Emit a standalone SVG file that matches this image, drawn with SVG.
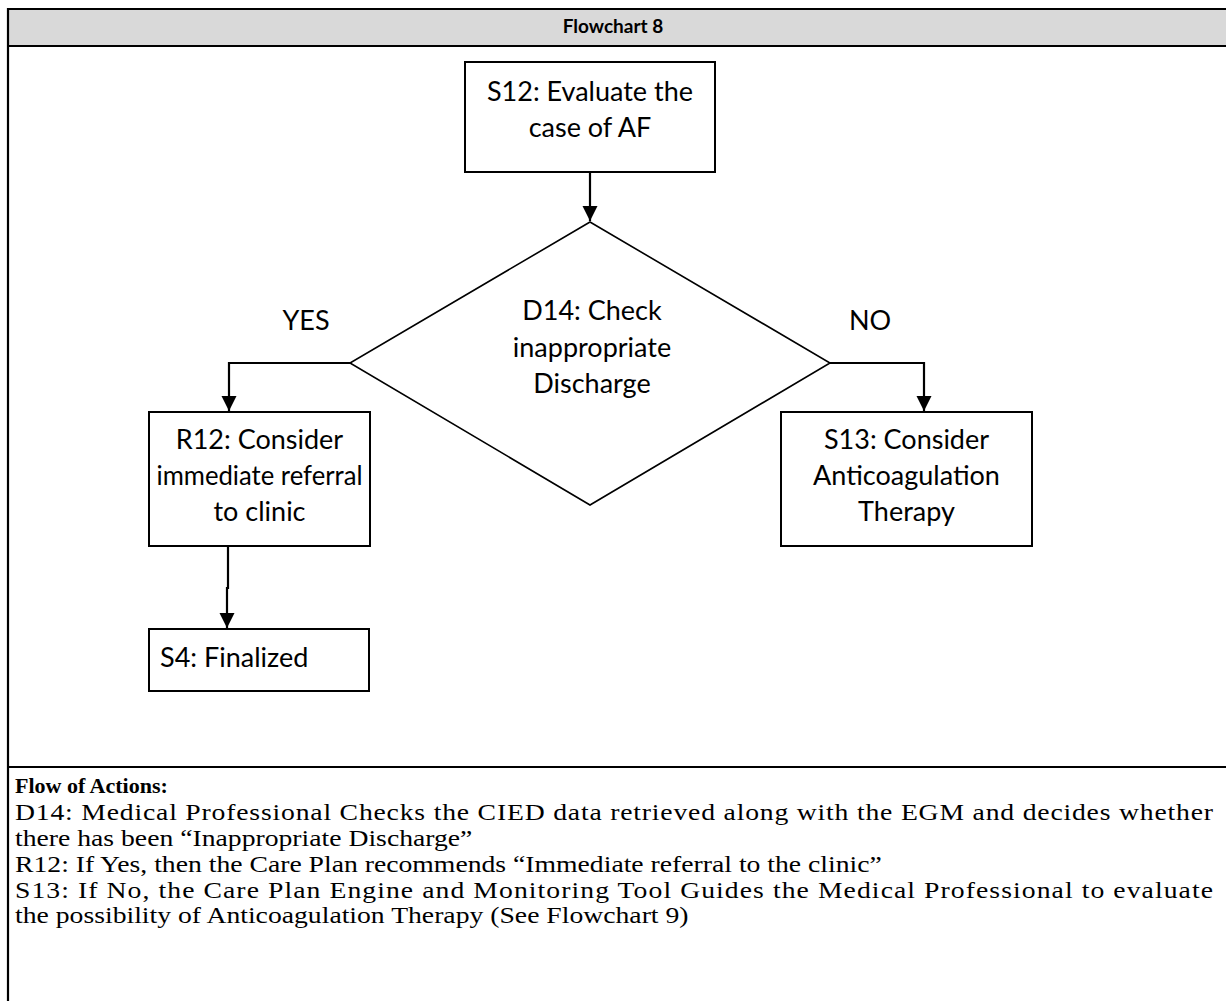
<svg xmlns="http://www.w3.org/2000/svg" width="1226" height="1001" viewBox="0 0 1226 1001">
  <style>
    .frame { stroke: #000; stroke-width: 2.2; fill: none; }
    .box { fill: #fff; stroke: #000; stroke-width: 2; }
    .dia { fill: #fff; stroke: #000; stroke-width: 1.6; }
    .lbl { font-family: Lato, "Liberation Sans", sans-serif; font-size: 27px; fill: #000; text-anchor: middle; }
    .lbl-l { font-family: Lato, "Liberation Sans", sans-serif; font-size: 27px; fill: #000; }
    .head { font-family: Lato, "Liberation Sans", sans-serif; font-size: 19px; font-weight: bold; fill: #000; text-anchor: middle; }
    .note { font-family: "Liberation Serif", "Times New Roman", serif; font-size: 22.5px; fill: #000; }
    .note-b { font-family: "Liberation Serif", "Times New Roman", serif; font-size: 22px; font-weight: bold; fill: #000; }
    .conn { fill: none; stroke: #000; stroke-width: 2.2; }
  </style>
  <defs>
    <marker id="arrow" viewBox="0 0 10 10" refX="10" refY="5" markerWidth="7" markerHeight="7" markerUnits="strokeWidth" orient="auto">
      <path d="M0,0 L10,5 L0,10 Z" fill="#000"/>
    </marker>
  </defs>

  <rect width="1226" height="1001" fill="#fff"/>

  <!-- table frame -->
  <g id="table">
    <rect x="8" y="9" width="1218" height="37" fill="#d9d9d9"/>
    <line class="frame" x1="7" y1="9" x2="1226" y2="9"/>
    <line class="frame" x1="7" y1="46" x2="1226" y2="46"/>
    <line class="frame" x1="7" y1="767" x2="1226" y2="767"/>
    <line class="frame" x1="8" y1="8" x2="8" y2="1001"/>
    <text class="head" x="613" y="33">Flowchart 8</text>
  </g>

  <!-- connectors -->
  <g id="connectors">
    <path class="conn" d="M590,172 L590,221" marker-end="url(#arrow)"/>
    <path class="conn" d="M350,363 L229,363 L229,411" marker-end="url(#arrow)"/>
    <path class="conn" d="M830,363 L924,363 L924,411" marker-end="url(#arrow)"/>
    <path class="conn" d="M228,546 L228,588 L227,588 L227,628" marker-end="url(#arrow)"/>
    <text class="lbl" x="306" y="330">YES</text>
    <text class="lbl" x="870" y="330">NO</text>
  </g>

  <g id="S12">
    <rect class="box" x="465" y="62" width="250" height="110"/>
    <text class="lbl" x="590" y="101">S12: Evaluate the</text>
    <text class="lbl" x="590" y="137">case of AF</text>
  </g>

  <g id="D14">
    <polygon class="dia" points="590,222 830,363 590,505 350,363"/>
    <text class="lbl" x="592" y="320">D14: Check</text>
    <text class="lbl" x="592" y="357">inappropriate</text>
    <text class="lbl" x="592" y="393">Discharge</text>
  </g>

  <g id="R12">
    <rect class="box" x="149" y="412" width="221" height="134"/>
    <text class="lbl" x="259.5" y="449">R12: Consider</text>
    <text class="lbl" x="259.5" y="485" textLength="206" lengthAdjust="spacingAndGlyphs">immediate referral</text>
    <text class="lbl" x="259.5" y="521">to clinic</text>
  </g>

  <g id="S13">
    <rect class="box" x="781" y="412" width="251" height="134"/>
    <text class="lbl" x="906.5" y="449">S13: Consider</text>
    <text class="lbl" x="906.5" y="485">Anticoagulation</text>
    <text class="lbl" x="906.5" y="521">Therapy</text>
  </g>

  <g id="S4">
    <rect class="box" x="149" y="629" width="220" height="62"/>
    <text class="lbl-l" x="160" y="667">S4: Finalized</text>
  </g>

  <!-- notes under the chart; body lines are set wide -->
  <g id="notes">
    <text class="note-b" x="15" y="793">Flow of Actions:</text>
    <g transform="scale(1.23 1)">
      <text class="note" x="12.2" y="820" textLength="974" lengthAdjust="spacing">D14: Medical Professional Checks the CIED data retrieved along with the EGM and decides whether</text>
      <text class="note" x="12.2" y="846">there has been “Inappropriate Discharge”</text>
      <text class="note" x="12.2" y="872">R12: If Yes, then the Care Plan recommends “Immediate referral to the clinic”</text>
      <text class="note" x="12.2" y="898" textLength="974" lengthAdjust="spacing">S13: If No, the Care Plan Engine and Monitoring Tool Guides the Medical Professional to evaluate</text>
      <text class="note" x="12.2" y="923">the possibility of Anticoagulation Therapy (See Flowchart 9)</text>
    </g>
  </g>
</svg>
